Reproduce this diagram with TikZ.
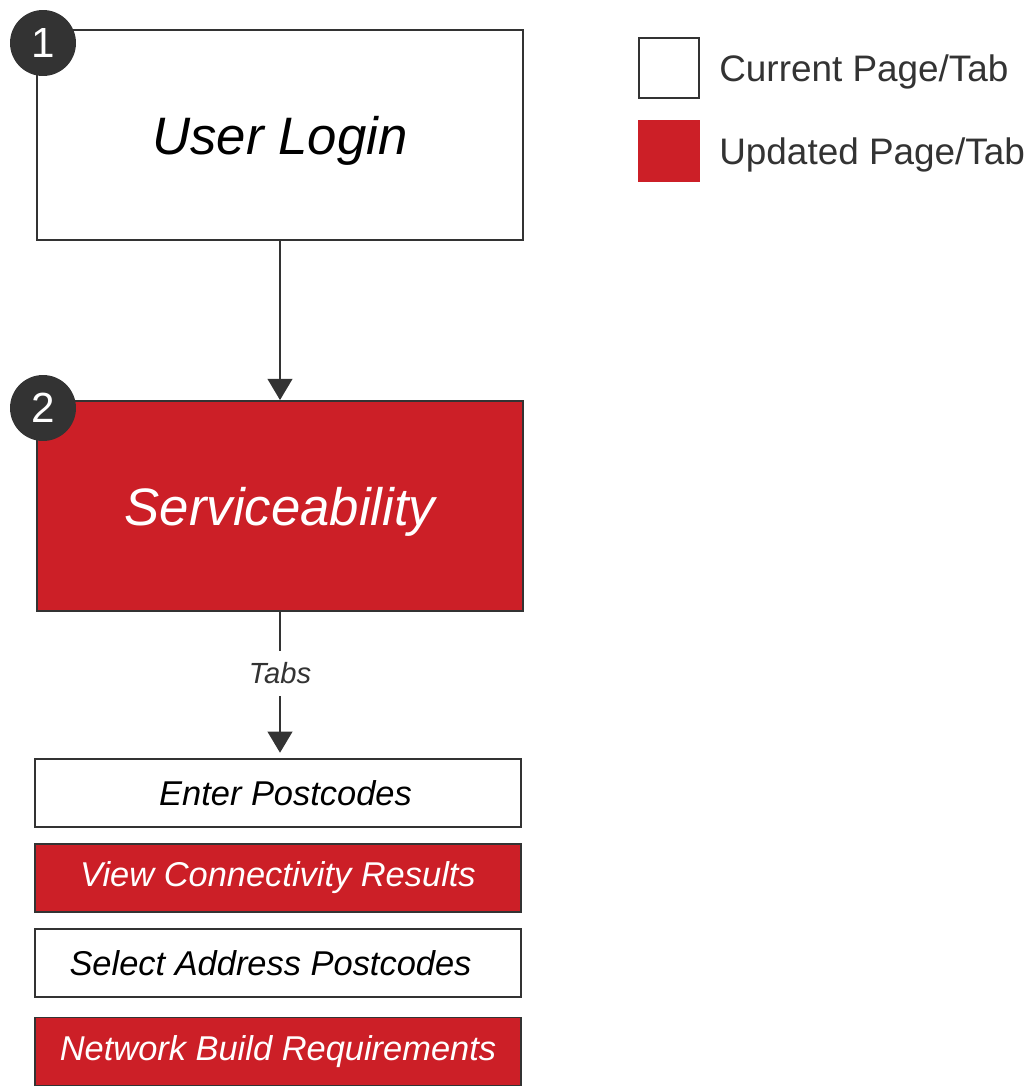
\documentclass[tikz,border=0pt]{standalone}
\usepackage{fontspec}
\setmainfont{Liberation Sans}
\usetikzlibrary{arrows.meta,positioning}
\definecolor{nbnred}{HTML}{CC1F27}
\definecolor{darkgrey}{HTML}{333333}

\begin{document}
\begin{tikzpicture}[x=0.02cm, y=-0.02cm,
	page/.style={draw=darkgrey, line width=1.1pt, minimum width=9.72cm, minimum height=4.2cm, text depth=0pt, font=\fontsize{30}{36}\selectfont\itshape},
	tab/.style={draw=darkgrey, line width=1.1pt, minimum width=9.72cm, minimum height=1.36cm, font=\fontsize{19.6}{24}\selectfont\itshape},
	current/.style={fill=white, text=black},
	updated/.style={fill=nbnred, text=white},
	badge/.style={circle, fill=darkgrey, minimum size=1.32cm, inner sep=0pt, text=white, font=\fontsize{24}{28}\selectfont},
	flow/.style={darkgrey, line width=1.1pt, -{Triangle[width=14pt,length=12pt]}},
	legendbox/.style={draw=darkgrey, line width=1.1pt, minimum size=1.2cm, inner sep=0pt},
	legendtext/.style={right=0.38cm of #1, inner sep=0pt, text depth=0pt, text=darkgrey, font=\fontsize{21}{25}\selectfont},
]
\useasboundingbox (0,0) rectangle (1033,1091);

%% Seiten
\node[page, current] (login) at (280,135) {User Login};
\node[page, updated] (svc) at (280,506) {Serviceability};
\node[badge] (b1) at (43,43) {1};
\node[badge] (b2) at (43,408) {2};

%% Tabs
\node[tab, current] (tab1) at (278,793) {\hspace*{0.3cm}Enter Postcodes};
\node[tab, updated] (tab2) at (278,878) {View Connectivity Results};
\node[tab, current] (tab3) at (278,963) {Select Address Postcodes\hspace*{0.3cm}};
\node[tab, updated] (tab4) at (278,1051.5) {Network Build Requirements};

%% Pfeile
\draw[flow] (login) -- (svc);
\draw[flow, shorten >=3pt] (svc.south) -- (svc.south |- tab1.north)
	node[pos=0.42, fill=white, minimum height=0.9cm, inner xsep=2pt, text=darkgrey, font=\fontsize{16.6}{20}\selectfont\itshape] (tabs) {Tabs};

%% Legende
\node[legendbox, fill=white] (lcur) at (669,68) {};
\node[legendtext=lcur] (lcurtext) {Current Page/Tab};
\node[legendbox, fill=nbnred, draw=nbnred] (lupd) at (669,151) {};
\node[legendtext=lupd] (lupdtext) {Updated Page/Tab};
\end{tikzpicture}
\end{document}
